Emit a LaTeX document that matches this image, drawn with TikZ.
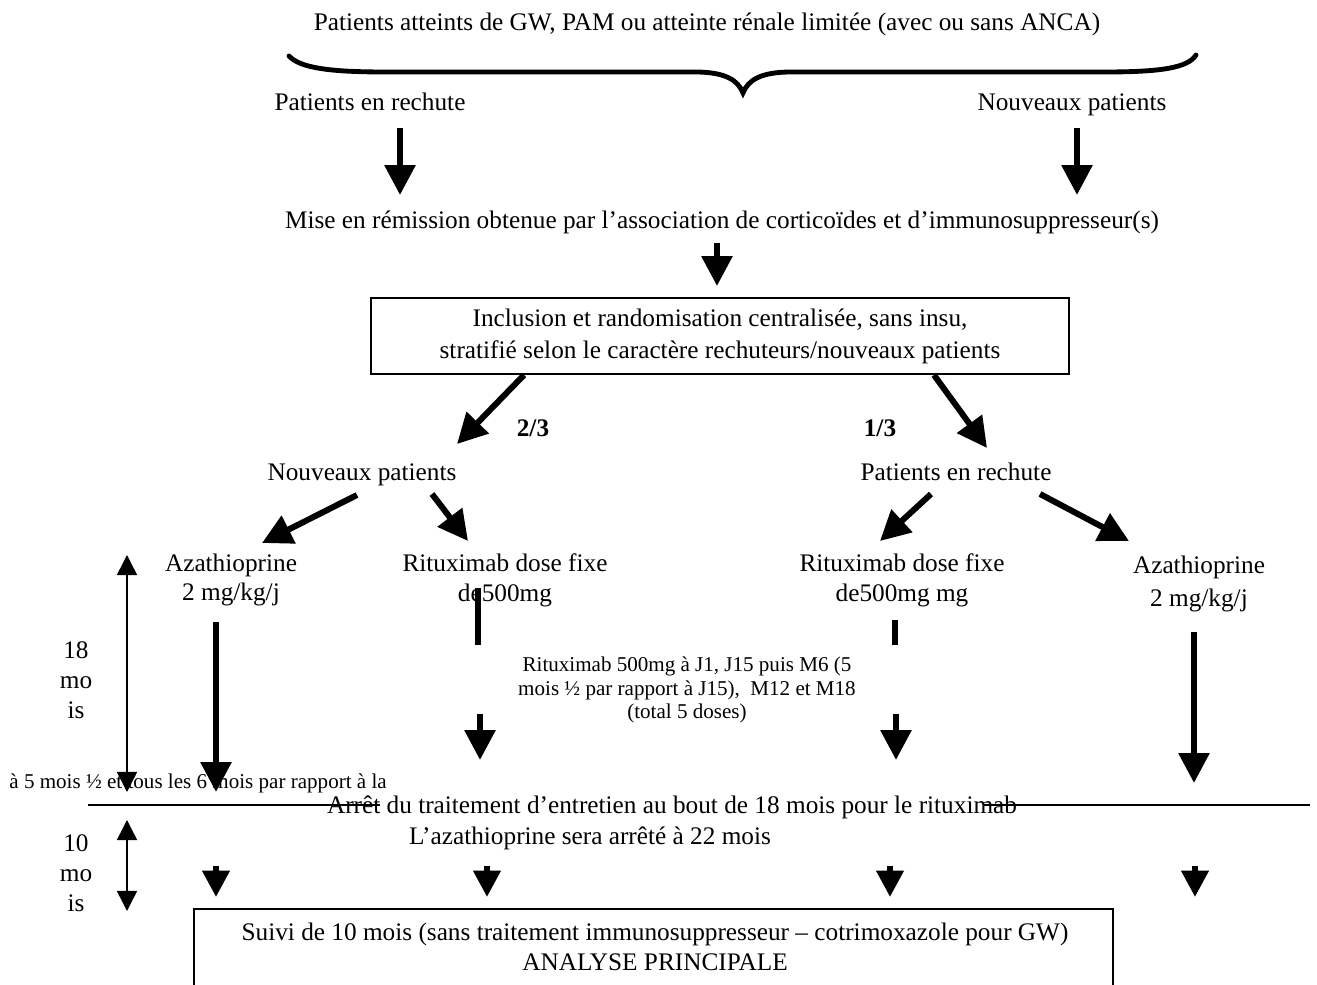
\documentclass[tikz,border=0pt]{standalone}
\usepackage{fontspec}
\setmainfont{Liberation Serif}
\usetikzlibrary{arrows.meta}
\begin{document}
\begin{tikzpicture}[x=0.4748pt,y=-0.4748pt,
 txt/.style={inner sep=0pt, align=center, font=\fontsize{12}{14.2}\selectfont},
 one/.style={txt, text height=8.4pt, text depth=0pt},
 small/.style={inner sep=0pt, align=center, font=\fontsize{10}{11}\selectfont},
 big/.style={line width=2.85pt, -{Triangle[width=14.2pt,length=14.2pt]}},
 stub/.style={line width=2.85pt, -{Triangle[width=12.5pt,length=12.5pt]}},
 barline/.style={line width=2.85pt},
 thin/.style={line width=0.7pt, {Triangle[width=9.5pt,length=9.5pt]}-{Triangle[width=9.5pt,length=9.5pt]}},
 boxed/.style={draw, line width=1pt},
 sep/.style={line width=0.8pt}]
\useasboundingbox (0,0) rectangle (1317,985);
\clip (0,0) rectangle (1317,985);
\fill[white] (0,0) rectangle (1317,985);

% top
\node[one] (top) at (707,22) {Patients atteints de GW, PAM ou atteinte rénale limitée (avec ou sans ANCA)};
\draw[line width=2.3pt, line cap=round] (289,56) .. controls (300,68) and (330,72) .. (385,72) -- (695,72)
  .. controls (725,72) and (738,80) .. (743,93) .. controls (748,80) and (761,72) .. (791,72) -- (1105,72)
  .. controls (1160,72) and (1188,68) .. (1196,55);
\node[one] (pr1) at (370,102) {Patients en rechute};
\node[one] (np1) at (1072,102) {Nouveaux patients};
\node[one] (mise) at (722,220) {Mise en rémission obtenue par l’association de corticoïdes et d’immunosuppresseur(s)};
\draw[big] (400,128) -- (400,195);
\draw[big] (1077,128) -- (1077,195);
\draw[big] (717,243) -- (717,286);

% randomisation box
\node[txt, font=\fontsize{12}{15.2}\selectfont, boxed, minimum width=331.4pt, minimum height=36.1pt] (incl) at (720,336)
  {Inclusion et randomisation centralisée, sans insu,\\stratifié selon le caractère rechuteurs/nouveaux patients};
\node[one, font=\fontsize{12}{14.2}\selectfont\bfseries] (r23) at (533,428) {2/3};
\node[one, font=\fontsize{12}{14.2}\selectfont\bfseries] (r13) at (880,428) {1/3};
\node[one] (np2) at (362,472) {Nouveaux patients};
\node[one] (pr2) at (956,472) {Patients en rechute};
\draw[big] (524,375) -- (457,444);
\draw[big] (934,375) -- (987,448);

\draw[big] (357,495) -- (262,543);
\draw[big] (432,494) -- (468,541);
\draw[big] (931,494) -- (880,541);
\draw[big] (1040,494) -- (1129,541);

% treatments
\node[txt] (aza1) at (231,580) {Azathioprine\\2 mg/kg/j};
\node[txt] (rit1) at (505,580) {Rituximab dose fixe\\de500mg};
\node[txt] (rit2) at (902,580) {Rituximab dose fixe\\de500mg mg};
\node[txt, font=\fontsize{12}{15.5}\selectfont] (aza2) at (1199,584) {Azathioprine\\2 mg/kg/j};

\node[small] (schema) at (687,690) {Rituximab 500mg à J1, J15 puis M6 (5\\mois ½ par rapport à J15),~~M12 et M18\\(total 5 doses)};

\draw[big] (216,622) -- (216,792);
\draw[big] (1194,632) -- (1194,783);
\draw[barline] (478,588) -- (478,645);
\draw[barline] (895,620) -- (895,645);
\draw[big] (480,714) -- (480,760);
\draw[big] (896,714) -- (896,760);

% duration markers
\node[txt] (d18) at (76,680) {18\\mo\\is};
\draw[thin] (127,555) -- (127,792);
\node[txt] (d10) at (76,873) {10\\mo\\is};
\draw[thin] (127,820) -- (127,911);

% stop line
\node[small, anchor=base west] (note) at (9,789) {à 5 mois ½ et tous les 6 mois par rapport à la};
\draw[sep] (88,805) -- (380,805);
\draw[sep] (983,805) -- (1310,805);
\node[one] (arret) at (672,805) {Arrêt du traitement d’entretien au bout de 18 mois pour le rituximab};
\node[one] (azastop) at (590,836) {L’azathioprine sera arrêté à 22 mois};

\draw[stub] (216,866) -- (216,897);
\draw[stub] (487,866) -- (487,897);
\draw[stub] (890,866) -- (890,897);
\draw[stub] (1195,866) -- (1195,897);

% follow-up box
\node[boxed, minimum width=436.3pt, minimum height=60pt, anchor=north west, inner sep=0pt] (suivi) at (193,908) {};
\node[txt] (suivitxt) at (655,947) {Suivi de 10 mois (sans traitement immunosuppresseur – cotrimoxazole pour GW)\\ANALYSE PRINCIPALE};
\end{tikzpicture}
\end{document}
